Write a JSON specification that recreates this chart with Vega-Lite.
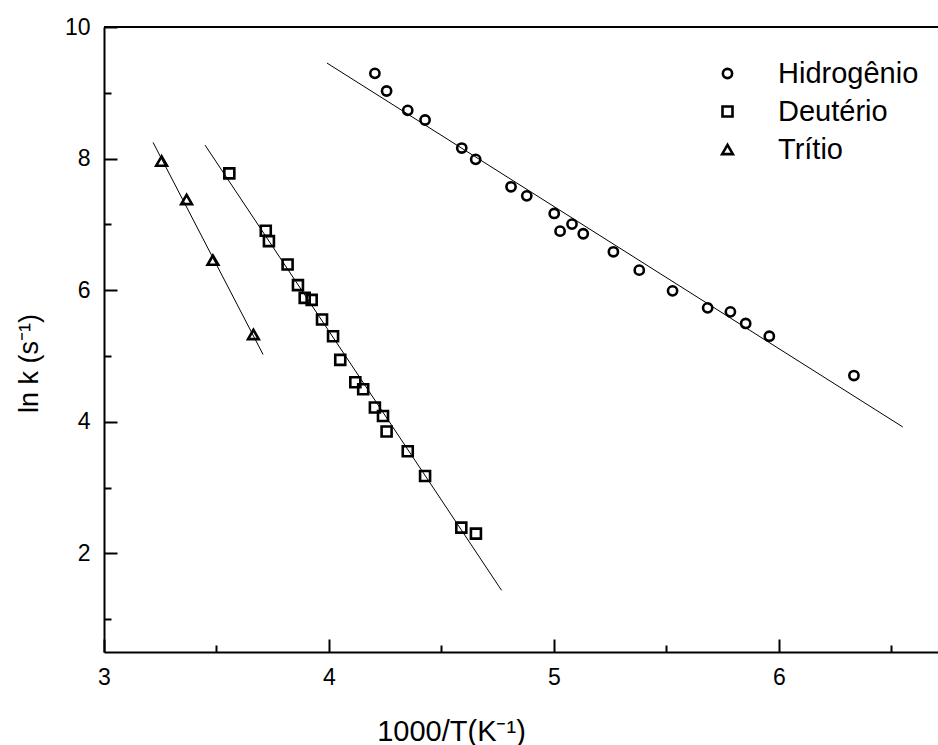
{
  "$schema": "https://vega.github.io/schema/vega-lite/v6.json",
  "width": 834,
  "height": 625,
  "autosize": {"type": "none"},
  "padding": {"left": 104, "top": 27, "right": 0, "bottom": 93},
  "background": "white",
  "config": {
    "view": {"stroke": null},
    "font": "Liberation Sans",
    "axis": {"grid": false, "labelFlush": false, "domainColor": "black", "domainWidth": 2, "tickColor": "black", "tickWidth": 2, "labelColor": "black", "titleColor": "black", "labelFont": "Liberation Sans", "titleFont": "Liberation Sans", "labelFontSize": 23, "titleFontSize": 29, "titleFontWeight": "normal"}
  },
  "datasets": {
    "pts": [
      {"x": 4.204, "y": 9.296, "s": "Hidrogênio"},
      {"x": 4.256, "y": 9.027, "s": "Hidrogênio"},
      {"x": 4.350, "y": 8.733, "s": "Hidrogênio"},
      {"x": 4.427, "y": 8.586, "s": "Hidrogênio"},
      {"x": 4.590, "y": 8.160, "s": "Hidrogênio"},
      {"x": 4.652, "y": 7.988, "s": "Hidrogênio"},
      {"x": 4.809, "y": 7.571, "s": "Hidrogênio"},
      {"x": 4.879, "y": 7.434, "s": "Hidrogênio"},
      {"x": 5.001, "y": 7.166, "s": "Hidrogênio"},
      {"x": 5.080, "y": 7.004, "s": "Hidrogênio"},
      {"x": 5.027, "y": 6.897, "s": "Hidrogênio"},
      {"x": 5.130, "y": 6.857, "s": "Hidrogênio"},
      {"x": 5.264, "y": 6.583, "s": "Hidrogênio"},
      {"x": 5.379, "y": 6.304, "s": "Hidrogênio"},
      {"x": 5.527, "y": 5.990, "s": "Hidrogênio"},
      {"x": 5.683, "y": 5.731, "s": "Hidrogênio"},
      {"x": 5.784, "y": 5.670, "s": "Hidrogênio"},
      {"x": 5.852, "y": 5.494, "s": "Hidrogênio"},
      {"x": 5.957, "y": 5.300, "s": "Hidrogênio"},
      {"x": 6.333, "y": 4.702, "s": "Hidrogênio"},
      {"x": 3.557, "y": 7.775, "s": "Deutério"},
      {"x": 3.719, "y": 6.902, "s": "Deutério"},
      {"x": 3.733, "y": 6.745, "s": "Deutério"},
      {"x": 3.816, "y": 6.391, "s": "Deutério"},
      {"x": 3.862, "y": 6.076, "s": "Deutério"},
      {"x": 3.892, "y": 5.883, "s": "Deutério"},
      {"x": 3.923, "y": 5.853, "s": "Deutério"},
      {"x": 3.969, "y": 5.554, "s": "Deutério"},
      {"x": 4.018, "y": 5.300, "s": "Deutério"},
      {"x": 4.050, "y": 4.940, "s": "Deutério"},
      {"x": 4.117, "y": 4.601, "s": "Deutério"},
      {"x": 4.152, "y": 4.494, "s": "Deutério"},
      {"x": 4.204, "y": 4.216, "s": "Deutério"},
      {"x": 4.240, "y": 4.088, "s": "Deutério"},
      {"x": 4.256, "y": 3.851, "s": "Deutério"},
      {"x": 4.350, "y": 3.551, "s": "Deutério"},
      {"x": 4.427, "y": 3.176, "s": "Deutério"},
      {"x": 4.588, "y": 2.391, "s": "Deutério"},
      {"x": 4.653, "y": 2.300, "s": "Deutério"},
      {"x": 3.256, "y": 7.962, "s": "Trítio"},
      {"x": 3.367, "y": 7.379, "s": "Trítio"},
      {"x": 3.484, "y": 6.456, "s": "Trítio"},
      {"x": 3.664, "y": 5.326, "s": "Trítio"}
    ],
    "fits": [
      {"x": 3.991, "y": 9.452, "s": "Hidrogênio"},
      {"x": 6.550, "y": 3.921, "s": "Hidrogênio"},
      {"x": 3.449, "y": 8.205, "s": "Deutério"},
      {"x": 4.767, "y": 1.437, "s": "Deutério"},
      {"x": 3.218, "y": 8.246, "s": "Trítio"},
      {"x": 3.707, "y": 5.022, "s": "Trítio"}
    ],
    "top": [{"y": 10}]
  },
  "layer": [
    {
      "data": {"name": "top"},
      "mark": {"type": "rule", "color": "black", "strokeWidth": 2},
      "encoding": {"y": {"field": "y", "type": "quantitative"}}
    },
    {
      "data": {"name": "fits"},
      "mark": {"type": "line", "color": "black", "strokeWidth": 1},
      "encoding": {
        "x": {"field": "x", "type": "quantitative"},
        "y": {"field": "y", "type": "quantitative"},
        "detail": {"field": "s", "type": "nominal"}
      }
    },
    {
      "data": {"name": "pts"},
      "mark": {"type": "point", "filled": false, "color": "black", "strokeWidth": 2.6, "opacity": 1},
      "encoding": {
        "x": {
          "field": "x", "type": "quantitative",
          "scale": {"domain": [3, 6.7067], "nice": false, "zero": false},
          "axis": {
            "values": [3, 3.5, 4, 4.5, 5, 5.5, 6, 6.5],
            "labelExpr": "datum.value % 1 === 0 ? format(datum.value, 'd') : ''",
            "tickSize": {"condition": {"test": "datum.value % 1 !== 0", "value": -7}, "value": -13},
            "labelFontSize": 23,
            "labelPadding": 27,
            "labelFlush": false,
            "title": "1000/T(K⁻¹)",
            "titleX": 347, "titleY": 88, "titleBaseline": "alphabetic"
          }
        },
        "y": {
          "field": "y", "type": "quantitative",
          "scale": {"domain": [0.5, 10], "nice": false, "zero": false},
          "axis": {
            "values": [1, 2, 3, 4, 5, 6, 7, 8, 9, 10],
            "labelExpr": "datum.value % 2 === 0 ? format(datum.value, 'd') : ''",
            "tickSize": {"condition": {"test": "datum.value % 2 !== 0", "value": -7}, "value": -13},
            "labelFontSize": 23,
            "labelPadding": 27,
            "labelFlush": false,
            "title": "ln k (s⁻¹)",
            "titleFontSize": 27,
            "titleX": -67, "titleY": 336, "titleBaseline": "alphabetic", "titleAngle": -90
          }
        },
        "shape": {
          "field": "s", "type": "nominal",
          "scale": {"domain": ["Hidrogênio", "Deutério", "Trítio"], "range": ["circle", "square", "triangle-up"]},
          "legend": {"title": null, "orient": "none", "legendX": 609, "legendY": 32, "labelFontSize": 29, "labelFont": "Liberation Sans", "labelColor": "black", "labelOffset": 36, "rowPadding": 8, "symbolStrokeWidth": 2.6, "symbolStrokeColor": "black", "symbolFillColor": "transparent", "padding": 0}
        },
        "size": {
          "field": "s", "type": "nominal",
          "scale": {"domain": ["Hidrogênio", "Deutério", "Trítio"], "range": [85, 115, 230]},
          "legend": {"title": null, "orient": "none", "legendX": 609, "legendY": 32, "labelFontSize": 29, "labelFont": "Liberation Sans", "labelColor": "black", "labelOffset": 36, "rowPadding": 8, "symbolStrokeWidth": 2.6, "symbolStrokeColor": "black", "symbolFillColor": "transparent", "padding": 0}
        }
      }
    }
  ]
}
